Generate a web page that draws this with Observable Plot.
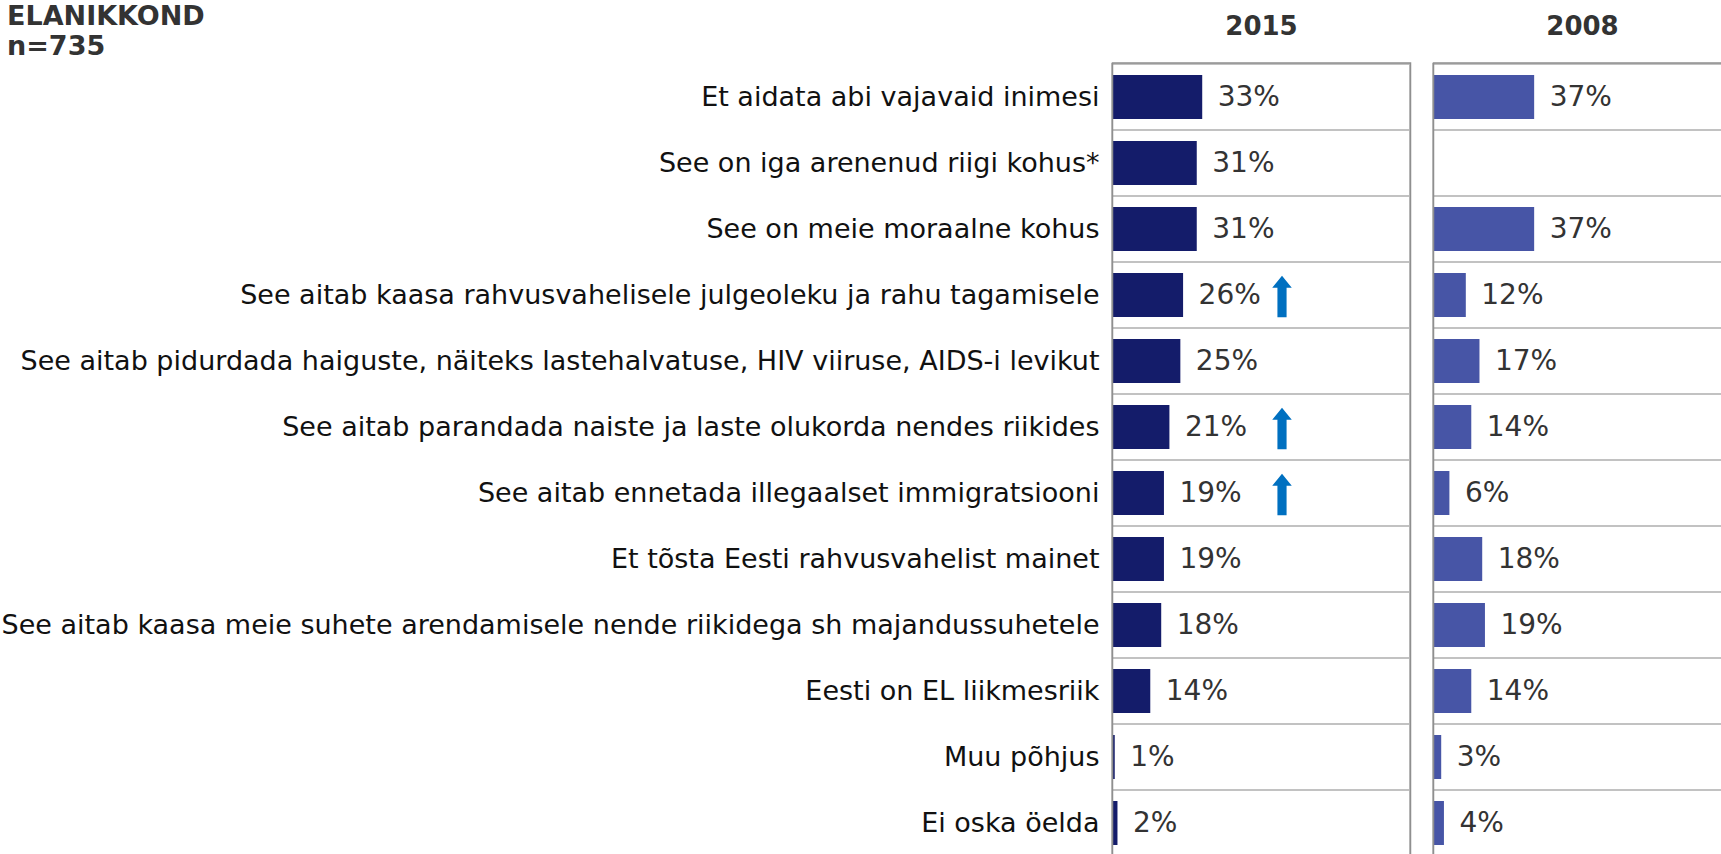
<!DOCTYPE html>
<html>
<head>
<meta charset="utf-8">
<script src="https://cdn.jsdelivr.net/npm/d3@7"></script>
<script src="https://cdn.jsdelivr.net/npm/@observablehq/plot@0.6"></script>
<style>
  html, body { margin: 0; padding: 0; background: #fff; overflow: hidden; }
  #wrap { position: relative; width: 1721px; height: 854px; overflow: hidden; }
  #title { position: absolute; left: 7px; top: 1px; font-family: "DejaVu Sans", sans-serif; font-weight: bold; font-size: 27px; line-height: 30px; color: #333; z-index: 2; }
  #chart { position: absolute; left: 0; top: 0; width: 1740px; height: 900px; }
  #chart svg { font-family: "DejaVu Sans", sans-serif; max-width: none !important; width: 1740px !important; height: 900px !important; }
  #chart svg [aria-label^="fx-axis"] text { font-weight: bold; fill: #333; font-size: 26px; }
  #chart svg [aria-label^="y-axis"] text { fill: #111; font-size: 27px; }
</style>
</head>
<body>
<div id="wrap">
  <div id="chart"></div>
  <div id="title">ELANIKKOND<br>n=735</div>
</div>
<script>
const categories = [
  "Et aidata abi vajavaid inimesi",
  "See on iga arenenud riigi kohus*",
  "See on meie moraalne kohus",
  "See aitab kaasa rahvusvahelisele julgeoleku ja rahu tagamisele",
  "See aitab pidurdada haiguste, näiteks lastehalvatuse, HIV viiruse, AIDS-i levikut",
  "See aitab parandada naiste ja laste olukorda nendes riikides",
  "See aitab ennetada illegaalset immigratsiooni",
  "Et tõsta Eesti rahvusvahelist mainet",
  "See aitab kaasa meie suhete arendamisele nende riikidega sh majandussuhetele",
  "Eesti on EL liikmesriik",
  "Muu põhjus",
  "Ei oska öelda"
];
const years = ["2015", "2008"];
const values2015 = [33, 31, 31, 26, 25, 21, 19, 19, 18, 14, 1, 2];
const values2008 = [37, null, 37, 12, 17, 14, 6, 18, 19, 14, 3, 4];
// categories with a significant increase since 2008 (blue up-arrow)
const increased2015 = [
  "See aitab kaasa rahvusvahelisele julgeoleku ja rahu tagamisele",
  "See aitab parandada naiste ja laste olukorda nendes riikides",
  "See aitab ennetada illegaalset immigratsiooni"
];
const yearColors = ["#141c6a", "#4755a6"];
const arrowColor = "#0070c0";
const xMax = 109;        // x scale maximum (percent)
const arrowColumn = 62;  // percent position of the significance marker column

const rows = [];
categories.forEach((c, i) => {
  rows.push({cat: c, year: "2015", value: values2015[i]});
  rows.push({cat: c, year: "2008", value: values2008[i]});
});
const present = rows.filter(d => d.value != null);
const arrows = increased2015.map(c => ({cat: c, year: "2015"}));

// block arrow symbol (pointing up), scaled by the dot radius
const upArrow = {
  draw(context, size) {
    const r = Math.sqrt(size / Math.PI);
    const headH = 0.58 * r, headW = 0.47 * r, shaftW = 0.22 * r;
    context.moveTo(0, -r);
    context.lineTo(headW, -r + headH);
    context.lineTo(shaftW, -r + headH);
    context.lineTo(shaftW, r);
    context.lineTo(-shaftW, r);
    context.lineTo(-shaftW, -r + headH);
    context.lineTo(-headW, -r + headH);
    context.closePath();
  }
};

const chart = Plot.plot({
  width: 1740,
  height: 900,
  marginLeft: 1112,
  marginRight: 9,
  marginTop: 62.5,
  marginBottom: 43,
  style: {fontFamily: '"DejaVu Sans", sans-serif', fontSize: "27px", color: "#111", background: "transparent", overflow: "visible", maxWidth: "none"},
  x: {domain: [0, xMax], axis: null},
  y: {domain: categories, padding: 0, label: null, tickSize: 0, tickPadding: 13},
  fx: {domain: years, paddingInner: 0.0717, paddingOuter: 0, label: null, axis: "top", tickSize: 0, tickPadding: 28},
  color: {domain: years, range: yearColors},
  marks: [
    Plot.barX(categories, {y: d => d, x1: 0, x2: xMax, fill: "none", stroke: "#c2c2c2", strokeWidth: 2}),
    Plot.barX(present, {fx: "year", y: "cat", x: "value", fill: "year", insetTop: 11, insetBottom: 11}),
    Plot.text(present, {fx: "year", y: "cat", x: "value", text: d => `${d.value}%`, textAnchor: "start", dx: 15, fill: "#333", fontSize: 28}),
    Plot.dot(arrows, {fx: "year", y: "cat", x: () => arrowColumn, r: 20.8, symbol: upArrow, fill: arrowColor, stroke: "none", dy: 1}),
    Plot.frame({stroke: "#8f8f8f", strokeWidth: 1.5})
  ]
});
document.getElementById("chart").appendChild(chart);
</script>
</body>
</html>
